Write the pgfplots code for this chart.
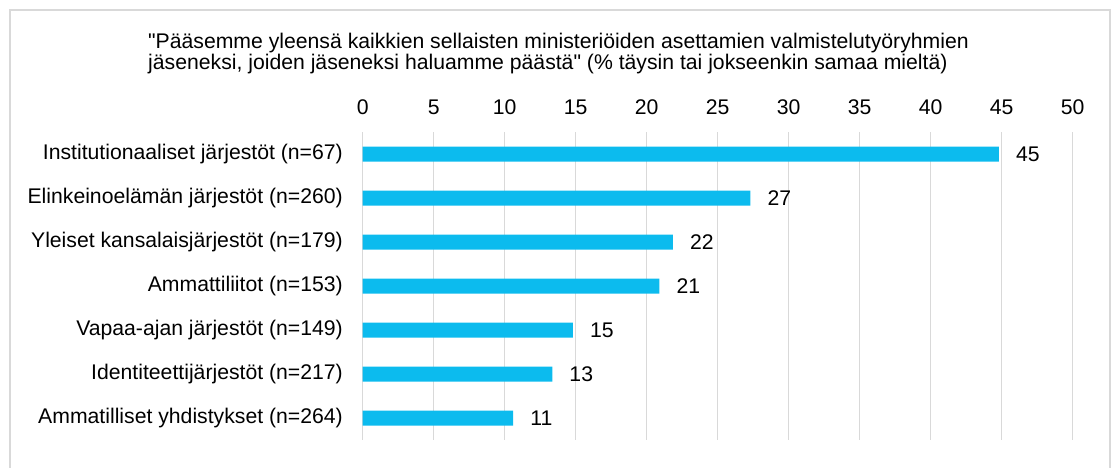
\documentclass[border=0pt]{standalone}
\usepackage{fontspec}
\setmainfont{Liberation Sans}[Ligatures=TeXOff]
\usepackage{pgfplots}
\pgfplotsset{compat=1.18}
\definecolor{barc}{RGB}{12,187,238}
\definecolor{gridc}{RGB}{217,217,217}
\definecolor{framec}{RGB}{217,217,217}
\newcommand{\fs}{\fontsize{21.2}{21}\selectfont}
\pgfplotstableread{
idx val lab
0 44.8 45
1 27.3 27
2 21.85 22
3 20.9 21
4 14.8 15
5 13.35 13
6 10.6 11
}\datatab
\begin{document}
\begin{tikzpicture}[x=1pt,y=1pt]
\useasboundingbox (0,0) rectangle (1114,467);
\draw[framec, line width=1.3pt] (10,-5) rectangle (1110,457);
\node[anchor=base west, inner sep=0pt, font=\fs] at (148,418) {"Pääsemme yleensä kaikkien sellaisten ministeriöiden asettamien valmistelutyöryhmien};
\node[anchor=base west, inner sep=0pt, font=\fs] at (148,397.5) {jäseneksi, joiden jäseneksi haluamme päästä" (\% täysin tai jokseenkin samaa mieltä)};
\begin{axis}[
  at={(362.7pt,27pt)}, anchor=south west,
  scale only axis, width=710pt, height=308pt,
  xmin=0, xmax=50, ymin=-0.5, ymax=6.5, y dir=reverse,
  xbar, bar width=15pt, bar shift=0pt,
  xtick={0,5,...,50}, xticklabel pos=upper,
  ytick={0,...,6},
  yticklabels={Institutionaaliset järjestöt (n=67),Elinkeinoelämän järjestöt (n=260),Yleiset kansalaisjärjestöt (n=179),Ammattiliitot (n=153),Vapaa-ajan järjestöt (n=149),Identiteettijärjestöt (n=217),Ammatilliset yhdistykset (n=264)},
  xmajorgrids, major grid style={gridc, line width=1.5pt},
  axis line style={draw=none}, tick style={draw=none}, major tick length=0pt,
  /pgf/number format/assume math mode=true,
  tick label style={font=\fs},
  xticklabel style={anchor=base, inner sep=0pt, yshift=18pt},
  yticklabel style={anchor=east, inner sep=0pt, xshift=-19.7pt},
  point meta=explicit symbolic,
  nodes near coords={\pgfplotspointmeta},
  nodes near coords style={anchor=west, inner sep=0pt, xshift=17pt, font=\fs, text=black},
  clip=false,
]
\addplot[fill=barc, draw=none] table[x=val, y=idx, meta=lab] {\datatab};
\end{axis}
\end{tikzpicture}
\end{document}
